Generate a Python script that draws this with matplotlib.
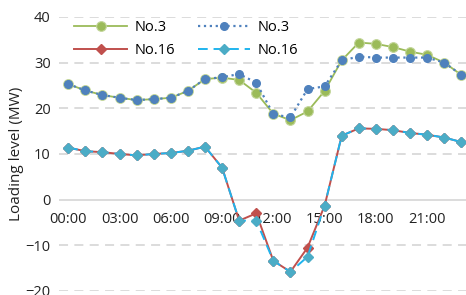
import matplotlib.pyplot as plt

# horas do dia (0..23) e rótulos do eixo x
hours = list(range(24))
tick_hours = [0, 3, 6, 9, 12, 15, 18, 21]
tick_labels = ['00:00', '03:00', '06:00', '09:00', '12:00', '15:00', '18:00', '21:00']

# No.3 - linha continua verde
no3_a = [25.3, 23.9, 22.9, 22.3, 21.8, 22.0, 22.3, 23.8, 26.4, 26.7, 26.2, 23.4,
         18.8, 17.4, 19.3, 23.8, 30.5, 34.4, 34.1, 33.4, 32.4, 31.7, 30.0, 27.3]
# No.3 - linha pontilhada azul
no3_b = [25.3, 23.9, 22.9, 22.3, 21.8, 22.0, 22.3, 23.8, 26.4, 26.8, 27.5, 25.6,
         18.7, 18.0, 24.2, 24.8, 30.5, 31.3, 31.1, 31.1, 31.1, 31.1, 30.0, 27.3]
# No.16 - linha continua vermelha
no16_a = [11.4, 10.6, 10.4, 10.0, 9.7, 10.0, 10.2, 10.7, 11.6, 7.0, -4.6, -3.0,
          -13.4, -15.8, -10.5, -1.3, 14.0, 15.6, 15.5, 15.2, 14.6, 14.2, 13.6, 12.6]
# No.16 - linha tracejada ciano
no16_b = [11.4, 10.6, 10.4, 10.0, 9.7, 10.0, 10.2, 10.7, 11.6, 7.0, -4.6, -4.6,
          -13.4, -15.8, -12.5, -1.3, 14.0, 15.6, 15.5, 15.2, 14.6, 14.2, 13.6, 12.6]

plt.rcParams['font.family'] = ['Open Sans', 'DejaVu Sans']
fs = 10.5

fig = plt.figure(figsize=(4.66, 2.95), dpi=100)
ax = fig.add_axes([0.127, 0.0136, 0.873, 0.929])

l1, = ax.plot(hours, no3_a, '-', color='#9BBB59', lw=1.3, marker='o', ms=7,
              mfc='#9BBB59', mec='#C3D69B', mew=0.8, label='No.3', zorder=3)
l2, = ax.plot(hours, no3_b, ':', color='#4F81BD', lw=1.6, marker='o', ms=5.5,
              mfc='#4F81BD', mec='#4F81BD', label='No.3', zorder=4)
l3, = ax.plot(hours, no16_a, '-', color='#C0504D', lw=1.4, marker='D', ms=5.5,
              mfc='#C0504D', mec='#C0504D', label='No.16', zorder=3)
l4, = ax.plot(hours, no16_b, '--', color='#1FB4EE', lw=1.4, dashes=(5, 3), marker='D', ms=5,
              mfc='#4BACC6', mec='#4BACC6', label='No.16', zorder=4)

ax.set_xlim(-0.53, 23.27)
ax.set_ylim(-20, 40)
ax.set_yticks([-20, -10, 0, 10, 20, 30, 40])
ax.set_xticks(tick_hours)
ax.set_xticklabels(tick_labels)

# grelha horizontal tracejada, linha do zero continua
for v in [-20, -10, 10, 20, 30, 40]:
    ax.axhline(v, color='#D9D9D9', lw=1.3, ls=(0, (5, 3.5)), zorder=1)
ax.axhline(0, color='#D9D9D9', lw=1.3, zorder=1)

# rótulos do eixo x logo abaixo da linha do zero
ax.spines['bottom'].set_position(('data', 0))
for s in ['top', 'right', 'left', 'bottom']:
    ax.spines[s].set_visible(False)
ax.tick_params(axis='both', length=0, labelsize=fs, colors='#222222')
ax.tick_params(axis='x', pad=9)
ax.tick_params(axis='y', pad=6)
for t in ax.get_xticklabels():
    t.set_zorder(5)

ax.set_ylabel('Loading level (MW)', fontsize=fs + 0.5, color='#222222', labelpad=1)

# legenda 2x2 (preenchida por colunas)
ax.legend([l1, l3, l2, l4], ['No.3', 'No.16', 'No.3', 'No.16'], ncol=2,
          loc='upper left', bbox_to_anchor=(0.005, 1.035), frameon=False,
          fontsize=fs, handlelength=3.6, handletextpad=0.5,
          columnspacing=1.6, labelspacing=0.5)

plt.savefig('out.png', dpi=100)
